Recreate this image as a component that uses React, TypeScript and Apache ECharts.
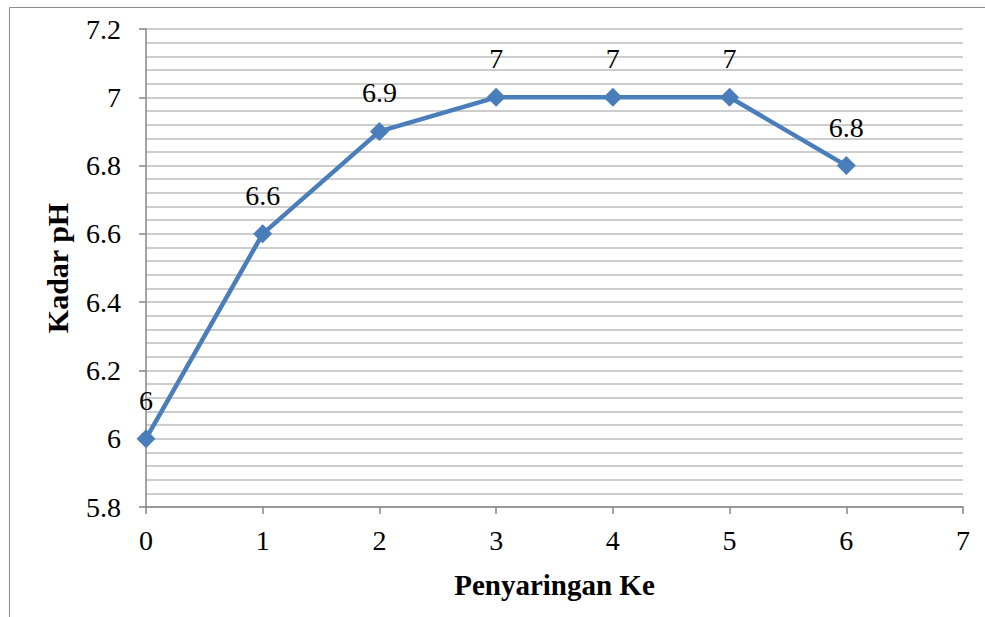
import React, { useEffect, useRef } from "react";
import * as echarts from "echarts";

// Filtration stage (Penyaringan Ke) and measured pH level (Kadar pH)
const stages: number[] = [0, 1, 2, 3, 4, 5, 6];
const phValues: number[] = [6, 6.6, 6.9, 7, 7, 7, 6.8];

const yTicks = { min: 5.8, max: 7.2, step: 0.2 };
const xTicks = { min: 0, max: 7, step: 1 };

const FONT = "Liberation Serif";

export default function App() {
  const ref = useRef<HTMLDivElement>(null);

  useEffect(() => {
    document.body.style.margin = "0";
    if (!ref.current) return;
    const chart = echarts.init(ref.current, null, { renderer: "svg" });
    chart.setOption({
      animation: false,
      backgroundColor: "#ffffff",
      textStyle: { fontFamily: FONT },
      grid: { left: 146, top: 29, right: 22, bottom: 110, containLabel: false },
      graphic: [
        {
          type: "rect",
          shape: { x: 9.5, y: 7.5, width: 1000, height: 700 },
          style: { fill: "none", stroke: "#8c8c8c", lineWidth: 1 },
          silent: true,
        },
      ],
      xAxis: {
        type: "value",
        min: xTicks.min,
        max: xTicks.max,
        interval: xTicks.step,
        name: "Penyaringan Ke",
        nameLocation: "middle",
        nameGap: 63,
        nameTextStyle: { fontFamily: FONT, fontWeight: "bold", fontSize: 29, color: "#000" },
        axisLine: { show: true, onZero: false, lineStyle: { color: "#868686", width: 1.5 } },
        axisTick: { show: true, length: 7, lineStyle: { color: "#868686", width: 1.5 } },
        axisLabel: { fontFamily: FONT, fontSize: 28, color: "#000", margin: 19 },
        splitLine: { show: false },
      },
      yAxis: {
        type: "value",
        min: yTicks.min,
        max: yTicks.max,
        interval: yTicks.step,
        name: "Kadar pH",
        nameLocation: "middle",
        nameGap: 74,
        nameTextStyle: { fontFamily: FONT, fontWeight: "bold", fontSize: 30, color: "#000" },
        axisLine: { show: true, lineStyle: { color: "#868686", width: 1.5 } },
        axisTick: { show: true, length: 7, lineStyle: { color: "#868686", width: 1.5 } },
        axisLabel: {
          fontFamily: FONT,
          fontSize: 28,
          color: "#000",
          margin: 25,
          formatter: (v: number) => String(Math.round(v * 10) / 10),
        },
        splitLine: { show: true, lineStyle: { color: "#bdbdbd", width: 1.5 } },
        minorTick: { show: false, splitNumber: 5 },
        minorSplitLine: { show: true, lineStyle: { color: "#bdbdbd", width: 1.5 } },
      },
      series: [
        {
          type: "line",
          data: stages.map((s, i) => [s, phValues[i]]),
          symbol: "diamond",
          symbolSize: 19,
          itemStyle: { color: "#4a7ebb" },
          lineStyle: { color: "#4a7ebb", width: 4.5 },
          label: {
            show: true,
            position: "top",
            distance: 15,
            fontFamily: FONT,
            fontSize: 28,
            color: "#000",
            formatter: (p: any) => String(p.value[1]),
          },
        },
      ],
    });
    return () => chart.dispose();
  }, []);

  return <div ref={ref} style={{ position: "absolute", left: 0, top: 0, width: 985, height: 617 }} />;
}
